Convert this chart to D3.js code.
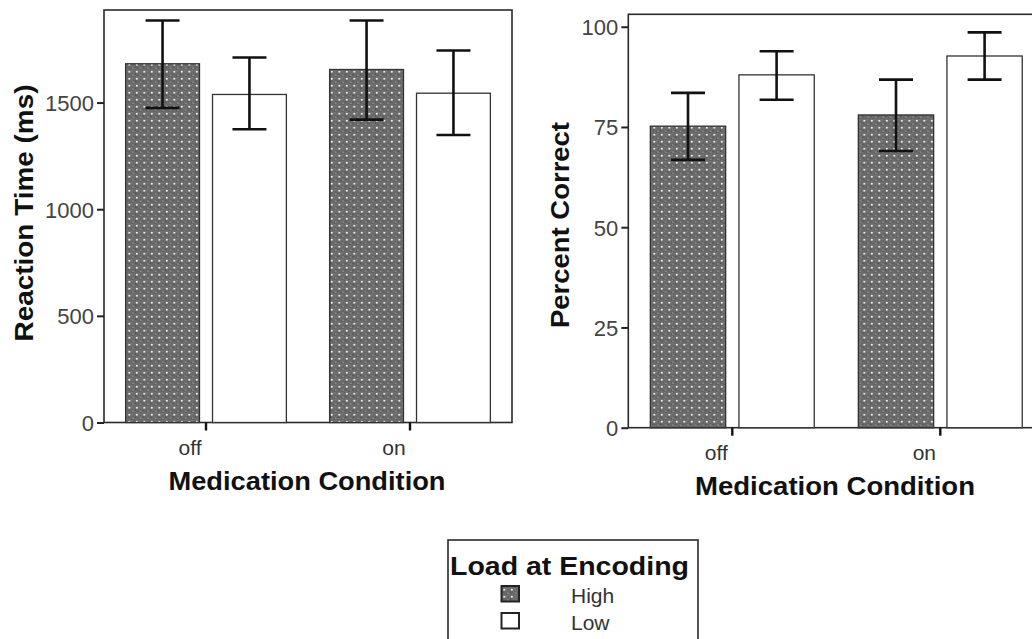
<!DOCTYPE html>
<html>
<head>
<meta charset="utf-8">
<script src="https://cdn.jsdelivr.net/npm/d3@7"></script>
<style>
  html, body { margin: 0; padding: 0; background: #fff; }
  svg { display: block; font-family: "Liberation Sans", Arial, sans-serif; }
</style>
</head>
<body>
<svg id="chart" width="1032" height="639"></svg>
<script>
// ---- data ----
const conditions = ["off", "on"];
const loads = ["High", "Low"];

const rtHigh = [1682, 1655];
const rtHighUpper = [1885, 1885];
const rtHighLower = [1475, 1420];
const rtLow = [1538, 1544];
const rtLowUpper = [1711, 1744];
const rtLowLower = [1375, 1348];

const pcHigh = [75.2, 78.0];
const pcHighUpper = [83.5, 86.8];
const pcHighLower = [66.8, 69.0];
const pcLow = [88.0, 92.7];
const pcLowUpper = [93.9, 98.6];
const pcLowLower = [81.8, 86.8];

const rtTicks = [0, 500, 1000, 1500];
const pcTicks = [0, 25, 50, 75, 100];

const xTitle = "Medication Condition";
const legendTitle = "Load at Encoding";

// ---- drawing ----
const svg = d3.select("#chart");
const defs = svg.append("defs");
const pat = defs.append("pattern")
  .attr("id", "dots").attr("patternUnits", "userSpaceOnUse")
  .attr("width", 7.5).attr("height", 7);
pat.append("rect").attr("width", 7.5).attr("height", 7).attr("fill", "#6a6a6a");
pat.append("rect").attr("x", 0).attr("y", 3.5).attr("width", 1.5).attr("height", 1.5).attr("fill", "#555");
pat.append("rect").attr("x", 4).attr("y", 0).attr("width", 1.5).attr("height", 1.5).attr("fill", "#7c7c7c");
pat.append("rect").attr("x", 4).attr("y", 5).attr("width", 1.5).attr("height", 1.5).attr("fill", "#555");
pat.append("circle").attr("cx", 1.8).attr("cy", 1.8).attr("r", 1.05).attr("fill", "#f2f2f2");
pat.append("circle").attr("cx", 5.5).attr("cy", 5.2).attr("r", 0.6).attr("fill", "#b5b5b5");

const fills = { High: "url(#dots)", Low: "#ffffff" };

function panel(cfg) {
  const g = svg.append("g");
  const x = d3.scaleBand().domain(conditions).range([cfg.left, cfg.right]).padding(0);
  const bw = x.bandwidth();
  const xi = d3.scaleBand().domain(loads).range([bw * 0.106, bw * 0.894]).paddingInner(0.15);
  const y = d3.scaleLinear().domain([0, cfg.ymax]).range([cfg.bottom, cfg.top]);

  // frame
  g.append("rect")
    .attr("x", cfg.left).attr("y", cfg.top)
    .attr("width", cfg.right - cfg.left).attr("height", cfg.bottom - cfg.top)
    .attr("fill", "none").attr("stroke", "#2a2a2a").attr("stroke-width", 1.6);

  const rows = [];
  conditions.forEach((c, i) => {
    loads.forEach(l => {
      const s = cfg.series[l];
      rows.push({ c, l, v: s.v[i], up: s.up[i], lo: s.lo[i] });
    });
  });

  // bars
  g.selectAll("rect.bar").data(rows).join("rect").attr("class", "bar")
    .attr("x", d => x(d.c) + xi(d.l))
    .attr("width", xi.bandwidth())
    .attr("y", d => y(d.v))
    .attr("height", d => y(0) - y(d.v))
    .attr("fill", d => fills[d.l])
    .attr("stroke", "#333").attr("stroke-width", 1.3);

  // error bars
  const capW = 34;
  const eb = g.selectAll("g.err").data(rows).join("g").attr("class", "err")
    .attr("stroke", "#111").attr("stroke-width", 2.6);
  eb.append("line")
    .attr("x1", d => x(d.c) + xi(d.l) + xi.bandwidth() / 2)
    .attr("x2", d => x(d.c) + xi(d.l) + xi.bandwidth() / 2)
    .attr("y1", d => y(d.up)).attr("y2", d => y(d.lo));
  ["up", "lo"].forEach(k => {
    eb.append("line")
      .attr("x1", d => x(d.c) + xi(d.l) + xi.bandwidth() / 2 - capW / 2)
      .attr("x2", d => x(d.c) + xi(d.l) + xi.bandwidth() / 2 + capW / 2)
      .attr("y1", d => y(d[k])).attr("y2", d => y(d[k]));
  });

  // y axis
  const ya = g.append("g").attr("transform", `translate(${cfg.left},0)`)
    .call(d3.axisLeft(y).tickValues(cfg.ticks).tickSize(7).tickPadding(3).tickFormat(d3.format("d")));
  ya.attr("font-size", null).attr("font-family", null);
  ya.select(".domain").remove();
  ya.selectAll(".tick line").attr("stroke", "#222").attr("stroke-width", 2);
  ya.selectAll(".tick text")
    .style("font-size", "22px").style("font-family", "'Liberation Sans', Arial, sans-serif")
    .attr("fill", "#444").attr("dy", "0.36em");

  // x axis
  const xa = g.append("g").attr("transform", `translate(0,${cfg.bottom})`)
    .call(d3.axisBottom(x).tickSize(8).tickPadding(6));
  xa.attr("font-size", null).attr("font-family", null);
  xa.select(".domain").remove();
  xa.selectAll(".tick line").attr("stroke", "#111").attr("stroke-width", 2.4);
  xa.selectAll(".tick text")
    .style("font-size", "21px").style("font-family", "'Liberation Sans', Arial, sans-serif")
    .attr("fill", "#333")
    .attr("x", -16).attr("y", cfg.xLabY).attr("dy", 0);

  // axis titles
  g.append("text")
    .attr("x", cfg.xTitleX).attr("y", cfg.xTitleY)
    .attr("text-anchor", "middle").attr("font-weight", "bold").attr("font-size", 25)
    .attr("fill", "#111")
    .attr("textLength", cfg.xTitleLen).attr("lengthAdjust", "spacingAndGlyphs")
    .text(xTitle);
  g.append("text")
    .attr("transform", `translate(${cfg.yTitleX},${cfg.yTitleY}) rotate(-90)`)
    .attr("text-anchor", "middle").attr("font-weight", "bold").attr("font-size", 25)
    .attr("fill", "#111")
    .attr("textLength", cfg.yTitleLen).attr("lengthAdjust", "spacingAndGlyphs")
    .text(cfg.yTitle);
}

panel({
  left: 104, right: 512, top: 10, bottom: 422.5, ymax: 1934,
  ticks: rtTicks,
  series: {
    High: { v: rtHigh, up: rtHighUpper, lo: rtHighLower },
    Low: { v: rtLow, up: rtLowUpper, lo: rtLowLower }
  },
  xLabY: 32.5,
  xTitleX: 307, xTitleY: 490, xTitleLen: 277,
  yTitle: "Reaction Time (ms)", yTitleX: 33, yTitleY: 213, yTitleLen: 257
});

panel({
  left: 628.3, right: 1044.3, top: 14.3, bottom: 427.7, ymax: 103.1,
  ticks: pcTicks,
  series: {
    High: { v: pcHigh, up: pcHighUpper, lo: pcHighLower },
    Low: { v: pcLow, up: pcLowUpper, lo: pcLowLower }
  },
  xLabY: 32.5,
  xTitleX: 835, xTitleY: 495, xTitleLen: 280,
  yTitle: "Percent Correct", yTitleX: 569, yTitleY: 225, yTitleLen: 206
});

// legend
const lg = svg.append("g");
lg.append("rect").attr("x", 448).attr("y", 540).attr("width", 250).attr("height", 120)
  .attr("fill", "#fff").attr("stroke", "#2a2a2a").attr("stroke-width", 1.6);
lg.append("text").attr("x", 450).attr("y", 575)
  .attr("font-weight", "bold").attr("font-size", 25).attr("fill", "#111")
  .attr("textLength", 239).attr("lengthAdjust", "spacingAndGlyphs")
  .text(legendTitle);
const ly = d3.scalePoint().domain(loads).range([586, 613]);
lg.selectAll("rect.sw").data(loads).join("rect").attr("class", "sw")
  .attr("x", 501.5).attr("y", d => ly(d)).attr("width", 17.5).attr("height", 15.5)
  .attr("fill", d => fills[d]).attr("stroke", "#222").attr("stroke-width", 2);
lg.selectAll("text.lab").data(loads).join("text").attr("class", "lab")
  .attr("x", 571).attr("y", d => ly(d) + 16.5)
  .attr("font-size", 21).attr("fill", "#333")
  .text(d => d);
</script>
</body>
</html>
